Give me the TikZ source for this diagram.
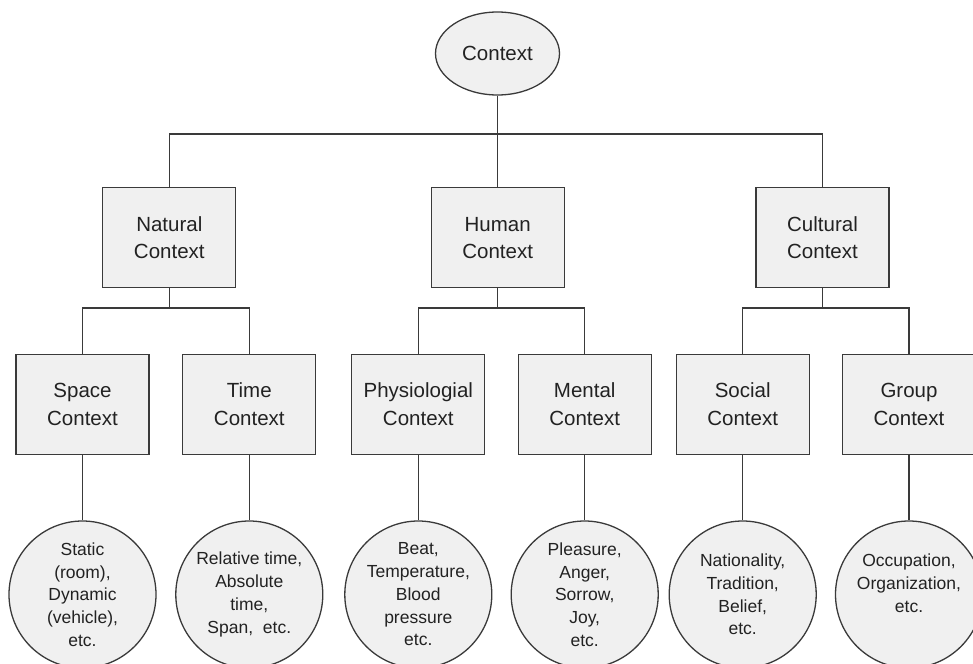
\documentclass[tikz,border=0pt]{standalone}
\usepackage{fontspec}
\setmainfont{Liberation Sans}
\usetikzlibrary{shapes.geometric}
\definecolor{ln}{HTML}{3A3A3A}
\definecolor{fl}{HTML}{F0F0F0}
\definecolor{tx}{HTML}{222222}
\tikzset{
  base/.style={draw=ln, line width=1.3pt, fill=fl, text=tx, inner sep=0pt, align=center},
  box/.style={base, rectangle, minimum width=133pt, minimum height=100pt,
    font=\fontsize{20.5}{27.5}\selectfont},
  root/.style={base, ellipse, minimum width=124pt, minimum height=83pt,
    font=\fontsize{20.5}{27.5}\selectfont},
  leaf/.style={base, circle, minimum size=147pt,
    font=\fontsize{17.5}{22.75}\selectfont},
  conn/.style={draw=ln, line width=1.3pt}
}
\begin{document}
\begin{tikzpicture}[x=1pt,y=-1pt]
\useasboundingbox (0,0) rectangle (973,663);
\clip (0,0) rectangle (973,663);
% root
\node[root] (ctx) at (497.5,53.5) {Context};
% level 2
\node[box] (nat) at (169.3,237.8) {Natural\\Context};
\node[box] (hum) at (497.7,237.8) {Human\\Context};
\node[box] (cul) at (822.5,237.8) {Cultural\\Context};
% level 3
\node[box] (spa) at (82.5,404.2) {Space\\Context};
\node[box] (tim) at (249.3,404.2) {Time\\Context};
\node[box] (phy) at (418.3,404.2) {Physiologial\\Context};
\node[box] (men) at (584.7,404.2) {Mental\\Context};
\node[box] (soc) at (742.7,404.2) {Social\\Context};
\node[box] (grp) at (909,404.2) {Group\\Context};
% leaves
\node[leaf] (lspa) at (82.5,594.5) {Static\\(room),\\Dynamic\\(vehicle),\\etc.};
\node[leaf] (ltim) at (249.3,594.5) {Relative time,\\Absolute\\time,\\Span,\ \ etc.};
\node[leaf] (lphy) at (418.3,594.5) {Beat,\\Temperature,\\Blood\\pressure\\etc.};
\node[leaf] (lmen) at (584.7,594.5) {Pleasure,\\Anger,\\Sorrow,\\Joy,\\etc.};
\node[leaf] (lsoc) at (742.7,594.5) {Nationality,\\Tradition,\\Belief,\\etc.};
\node[leaf] (lgrp) at (909,594.5) {Occupation,\\Organization,\\etc.\\\mbox{}};
% bus coordinates
\coordinate (b1) at (497.5,134);
\coordinate (bn) at (169.3,308);
\coordinate (bh) at (497.7,308);
\coordinate (bc) at (822.5,308);
% connectors
\draw[conn] (ctx.south) -- (b1);
\draw[conn] (nat.north) |- (b1) -| (cul.north);
\draw[conn] (hum.north) -- (hum.north |- b1);
\draw[conn] (nat.south) -- (bn);
\draw[conn] (spa.north) |- (bn) -| (tim.north);
\draw[conn] (hum.south) -- (bh);
\draw[conn] (phy.north) |- (bh) -| (men.north);
\draw[conn] (cul.south) -- (bc);
\draw[conn] (soc.north) |- (bc) -| (grp.north);
\draw[conn] (spa.south) -- (lspa.north);
\draw[conn] (tim.south) -- (ltim.north);
\draw[conn] (phy.south) -- (lphy.north);
\draw[conn] (men.south) -- (lmen.north);
\draw[conn] (soc.south) -- (lsoc.north);
\draw[conn] (grp.south) -- (lgrp.north);
\end{tikzpicture}
\end{document}
